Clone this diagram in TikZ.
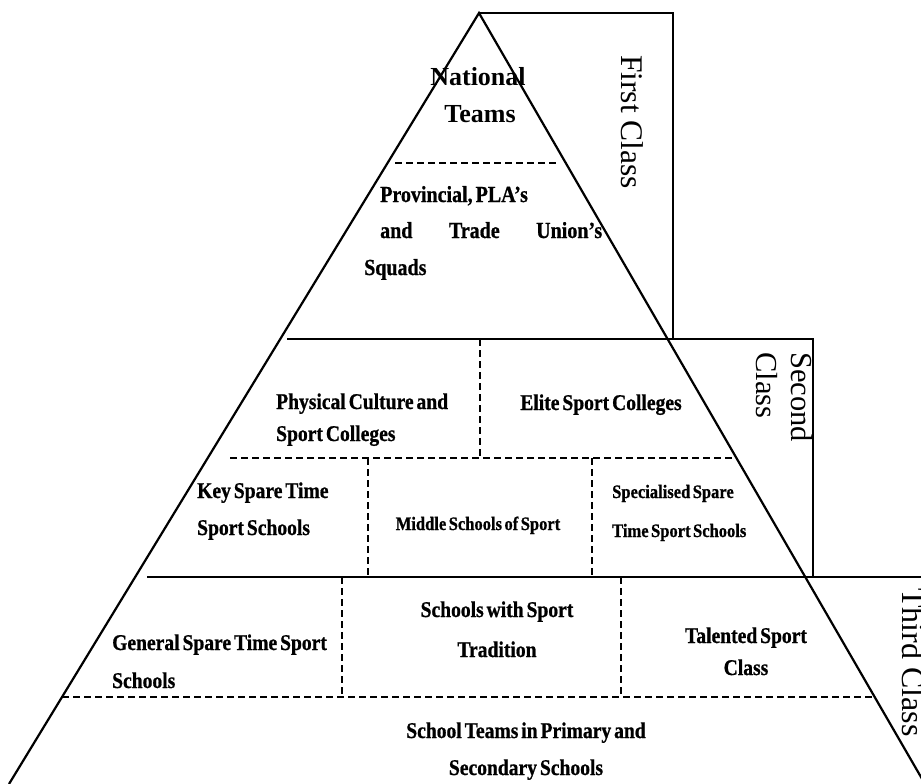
\documentclass[tikz,border=0pt]{standalone}
\usepackage{fontspec}
\setmainfont{Liberation Serif}
\newfontfamily\condfont[FakeStretch=0.87, FakeBold=0.8, WordSpace=0.6]{Liberation Serif}
\begin{document}
\begin{tikzpicture}[x=1pt,y=-1pt,
  frame/.style={line width=2.2pt, line join=miter},
  div/.style={line width=2.6pt, dash pattern=on 6.5pt off 4.5pt},
  lbl/.style={inner sep=0pt, font=\condfont\bfseries\fontsize{22.5}{27}\selectfont},
  lblsmall/.style={inner sep=0pt, font=\condfont\bfseries\fontsize{19}{23}\selectfont},
  lbltop/.style={inner sep=0pt, font=\bfseries\fontsize{26}{31}\selectfont},
  classlbl/.style={inner sep=0pt, rotate=-90, align=left, anchor=north west}]

\useasboundingbox (0,0) rectangle (921,784);
\fill[white] (0,0) rectangle (921,784);
\clip (0,0) rectangle (921,784);

% pyramid outline
\coordinate (apex) at (479,13);
\coordinate (bl) at (9,784);
\coordinate (br) at (925,784);
\draw[frame] (bl) -- (apex) -- (br);

% class brackets
\draw[frame] (apex) -- (673,13) -- (673,339);
\draw[frame] (287,339) -- (813,339) -- (813,577);
\draw[frame] (147,577) -- (921,577);

% dashed dividers inside the tiers
\draw[div] (395,163) -- (558,163);
\draw[div] (480,339) -- (480,458);
\draw[div] (230,458) -- (732,458);
\draw[div] (368,458) -- (368,577);
\draw[div] (592,458) -- (592,577);
\draw[div] (342,577) -- (342,697);
\draw[div] (621,577) -- (621,697);
\draw[div] (62,697) -- (873,697);

% class labels
\node[classlbl, font=\fontsize{31.5}{35}\selectfont] (first) at (644,55) {First Class};
\node[classlbl, font=\fontsize{30.5}{35}\selectfont] (second) at (813,352) {Second\\Class};
\node[classlbl, font=\fontsize{32}{35}\selectfont] (third) at (925,588) {Third Class};

% first class
\node[lbltop, anchor=base] (nat1) at (478,85) {National};
\node[lbltop, anchor=base] (nat2) at (480,122) {Teams};
\node[lbl, anchor=base west, font=\condfont\bfseries\fontsize{23}{27}\selectfont] (prov1) at (380,202) {Provincial, PLA’s};
\node[lbl, anchor=base west, font=\condfont\bfseries\fontsize{23}{27}\selectfont] (prov2) at (380,238) {\makebox[222pt][s]{and\hfill Trade\hfill Union’s}};
\node[lbl, anchor=base west, font=\condfont\bfseries\fontsize{23}{27}\selectfont] (prov3) at (364,275) {Squads};

% second class
\node[lbl, anchor=base west] (phys1) at (276,409) {Physical Culture and};
\node[lbl, anchor=base west] (phys2) at (276,441) {Sport Colleges};
\node[lbl, anchor=base] (elite) at (601,410) {Elite Sport Colleges};
\node[lbl, anchor=base west] (key1) at (197,498) {Key Spare Time};
\node[lbl, anchor=base west] (key2) at (197,535) {Sport Schools};
\node[lblsmall, anchor=base] (mid) at (478,530) {Middle Schools of Sport};
\node[lblsmall, anchor=base west] (spec1) at (612,498) {Specialised Spare};
\node[lblsmall, anchor=base west] (spec2) at (612,537) {Time Sport Schools};

% third class
\node[lbl, anchor=base west] (gen1) at (112,650) {General Spare Time Sport};
\node[lbl, anchor=base west] (gen2) at (112,688) {Schools};
\node[lbl, anchor=base] (trad1) at (497,617) {Schools with Sport};
\node[lbl, anchor=base] (trad2) at (497,657) {Tradition};
\node[lbl, anchor=base] (tal1) at (746,643) {Talented Sport};
\node[lbl, anchor=base] (tal2) at (746,675) {Class};
\node[lbl, anchor=base] (team1) at (526,738) {School Teams in Primary and};
\node[lbl, anchor=base] (team2) at (526,775) {Secondary Schools};

\end{tikzpicture}
\end{document}
